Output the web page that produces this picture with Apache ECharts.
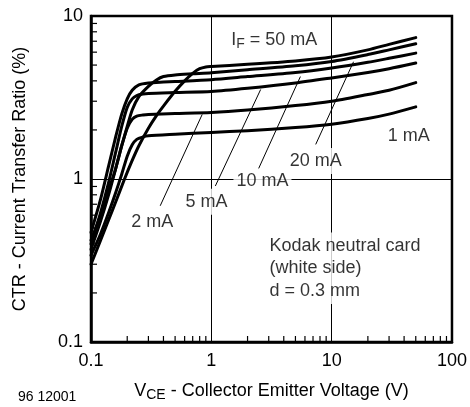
<!DOCTYPE html>
<html>
<head>
<meta charset="utf-8">
<script src="https://cdn.jsdelivr.net/npm/echarts@6/dist/echarts.min.js"></script>
<style>
html,body{margin:0;padding:0;background:#fff;}
#chart{width:470px;height:407px;}
</style>
</head>
<body>
<div id="chart"></div>
<script>
// ---- data (VCE in V, CTR in %) ----
var ctr1mA  = [[0.1,0.34],[0.12,0.46],[0.14,0.62],[0.16,0.82],[0.18,1.07],[0.2,1.38],[0.22,1.62],[0.24,1.75],[0.27,1.81],[0.3,1.84],[0.5,1.88],[1,1.93],[2,1.98],[5,2.07],[10,2.17],[20,2.35],[30,2.5],[50,2.77]];
var ctr2mA  = [[0.1,0.37],[0.12,0.55],[0.14,0.8],[0.16,1.15],[0.18,1.6],[0.2,2.05],[0.22,2.32],[0.24,2.43],[0.27,2.47],[0.3,2.49],[0.5,2.52],[1,2.56],[2,2.65],[5,2.82],[10,3.0],[20,3.3],[30,3.5],[50,3.9]];
var ctr5mA  = [[0.1,0.4],[0.12,0.62],[0.14,0.95],[0.16,1.45],[0.18,2.1],[0.2,2.75],[0.22,3.1],[0.24,3.25],[0.27,3.32],[0.3,3.35],[0.5,3.39],[1,3.44],[2,3.6],[5,3.88],[10,4.17],[20,4.5],[30,4.75],[50,5.15]];
var ctr10mA = [[0.1,0.47],[0.12,0.75],[0.14,1.2],[0.16,1.8],[0.18,2.5],[0.2,3.1],[0.22,3.5],[0.25,3.78],[0.3,3.88],[0.4,3.93],[0.5,3.96],[1,4.07],[2,4.25],[5,4.5],[10,4.8],[20,5.2],[30,5.5],[50,5.92]];
var ctr20mA = [[0.1,0.42],[0.12,0.6],[0.14,0.85],[0.16,1.15],[0.18,1.6],[0.2,2.1],[0.22,2.65],[0.25,3.2],[0.3,3.7],[0.35,4.05],[0.4,4.25],[0.5,4.35],[0.7,4.42],[1,4.49],[2,4.68],[5,4.95],[10,5.26],[20,5.8],[30,6.2],[50,6.75]];
var ctr50mA = [[0.1,0.3],[0.12,0.42],[0.14,0.56],[0.16,0.72],[0.19,1.0],[0.22,1.3],[0.25,1.6],[0.3,2.05],[0.35,2.45],[0.4,2.8],[0.5,3.45],[0.6,4.0],[0.7,4.45],[0.8,4.75],[0.9,4.87],[1,4.9],[2,5.05],[5,5.3],[10,5.6],[20,6.2],[30,6.7],[50,7.37]];

var xTickLabels = {'0.1':'0.1','1':'1','10':'10','100':'100'};
var yTickLabels = {'0.1':'0.1','1':'1','10':'10'};
var minorTicksX = [0.2,0.3,0.4,0.5,0.6,0.7,0.8,0.9,2,3,4,5,6,7,8,9,20,30,40,50,60,70,80,90];
var minorTicksY = [0.2,0.3,0.4,0.5,0.6,0.7,0.8,0.9,2,3,4,5,6,7,8,9];

// annotation labels [x, y, text]
var curveLabels = [
  [3.33, 7.15, '{a|I}{s|F}{a| = 50 mA}'],
  [43.8, 1.83, '1 mA'],
  [7.37, 1.29, '20 mA'],
  [2.66, 0.97, '10 mA'],
  [0.91, 0.724, '5 mA'],
  [0.323, 0.547, '2 mA']
];
var noteLabel = [[2.93, 0.283, 'Kodak neutral card\n(white side)\nd = 0.3 mm']];
// leader lines
var leader2mA  = [[0.376,0.685],[0.84,2.49]];
var leader5mA  = [[1.08,0.906],[2.57,3.54]];
var leader10mA = [[2.46,1.15],[5.5,4.25]];
var leader20mA = [[7.37,1.63],[15.2,5.24]];

var FONT = '"Liberation Sans", Arial, Helvetica, sans-serif';

function curve(data){
  return {type:'line', data:data, symbol:'none', smooth:0.25,
          lineStyle:{color:'#000', width:3, cap:'round', join:'round'}, z:3, clip:true};
}
function leader(data){
  return {type:'line', data:data, symbol:'none', lineStyle:{color:'#000', width:1}, z:3};
}

var chart = echarts.init(document.getElementById('chart'), null, {renderer:'canvas'});
chart.setOption({
  animation:false,
  backgroundColor:'#fff',
  textStyle:{fontFamily:FONT},
  grid:{left:91, right:18, top:16, bottom:64, show:true, borderColor:'#000', borderWidth:2.5, backgroundColor:'transparent'},
  xAxis:{
    type:'log', logBase:10, min:0.1, max:100,
    name:'{v|V}{s|CE}{v| - Collector Emitter Voltage (V)}',
    nameLocation:'middle', nameGap:38,
    nameTextStyle:{rich:{v:{fontSize:18,color:'#000',fontFamily:FONT}, s:{fontSize:14,color:'#000',fontFamily:FONT,padding:[8,0,0,0]}}},
    axisLine:{show:true, lineStyle:{color:'#000', width:2.5}},
    axisTick:{show:false},
    splitLine:{show:true, lineStyle:{color:'#000', width:1}},
    axisLabel:{fontSize:18, color:'#000', margin:10, fontFamily:FONT,
      formatter:function(v){ var k = String(+v.toPrecision(3)); return xTickLabels[k] !== undefined ? xTickLabels[k] : ''; }}
  },
  yAxis:{
    type:'log', logBase:10, min:0.1, max:10,
    name:'CTR - Current Transfer Ratio (%)',
    nameLocation:'middle', nameGap:62, nameRotate:90,
    nameTextStyle:{fontSize:18, color:'#000', fontFamily:FONT},
    axisLine:{show:true, lineStyle:{color:'#000', width:2.5}},
    axisTick:{show:false},
    splitLine:{show:true, lineStyle:{color:'#000', width:1}},
    axisLabel:{fontSize:18, color:'#000', margin:8, fontFamily:FONT,
      formatter:function(v){ var k = String(+v.toPrecision(3)); return yTickLabels[k] !== undefined ? yTickLabels[k] : ''; }}
  },
  graphic:[{type:'text', left:18, top:390, style:{text:'96 12001', fontSize:14, fill:'#000', fontFamily:FONT}}],
  series:[
    {type:'custom', data:minorTicksX.map(function(v){return [v];}), z:4, silent:true,
      renderItem:function(params, api){
        var p = api.coord([api.value(0), 0.1]);
        return {type:'line', shape:{x1:p[0], y1:p[1], x2:p[0], y2:p[1]-6}, style:{stroke:'#000', lineWidth:1.2}};
      }},
    {type:'custom', data:minorTicksY.map(function(v){return [0.1, v];}), z:4, silent:true,
      renderItem:function(params, api){
        var p = api.coord([0.1, api.value(1)]);
        return {type:'line', shape:{x1:p[0], y1:p[1], x2:p[0]+6, y2:p[1]}, style:{stroke:'#000', lineWidth:1.2}};
      }},
    curve(ctr1mA), curve(ctr2mA), curve(ctr5mA), curve(ctr10mA), curve(ctr20mA), curve(ctr50mA),
    leader(leader2mA), leader(leader5mA), leader(leader10mA), leader(leader20mA),
    {type:'scatter', symbolSize:0, z:5, silent:true,
      data:curveLabels.map(function(d){return {value:[d[0], d[1]], name:d[2]};}),
      label:{show:true, position:'inside', formatter:function(p){return p.name;},
        fontSize:18, color:'#000', fontFamily:FONT, backgroundColor:'#fff', padding:[4,3,4,3],
        rich:{a:{fontSize:18,color:'#000',fontFamily:FONT}, s:{fontSize:14,color:'#000',fontFamily:FONT,padding:[8,0,0,0]}}}},
    {type:'scatter', symbolSize:0, z:5, silent:true,
      data:noteLabel.map(function(d){return {value:[d[0], d[1]], name:d[2]};}),
      label:{show:true, position:'right', distance:0, formatter:function(p){return p.name;},
        fontSize:18, lineHeight:22.5, color:'#000', fontFamily:FONT, backgroundColor:'#fff', padding:[2,2,2,2], align:'left'}}
  ]
});
</script>
</body>
</html>
